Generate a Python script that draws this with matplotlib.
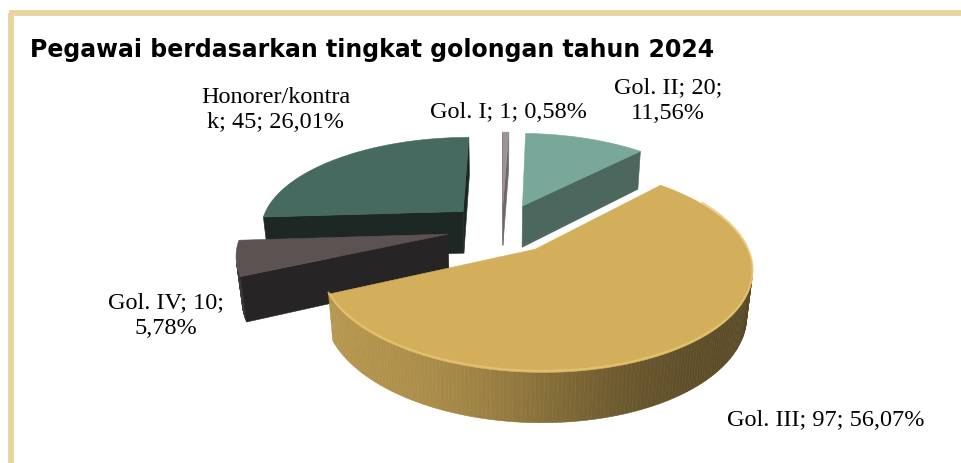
import numpy as np
import matplotlib.pyplot as plt
from matplotlib.patches import Polygon

# data
categories = ["Gol. I", "Gol. II", "Gol. III", "Gol. IV", "Honorer/kontrak"]
counts = [1, 20, 97, 10, 45]
wrap_at = [0, 12, 0, 12, 14]  # where Excel broke the label line

top_colors = ["#9C9494", "#79A89A", "#D4AF5B", "#5C5251", "#466A60"]
side_colors = ["#8A8282", "#5E857A", "#D4AF5B", "#4A4242", "#3A584F"]
radial_colors = ["#706868", "#4B675E", "#8C7540", "#272425", "#1D2824"]

label_xy = [(508, 113), (668, 101), (826, 420), (166, 316), (276, 110)]

# 3d pie geometry (pixels)
cx, cy = 502, 228
scale = 204
cam_dist = 5.0
tilt = np.radians(27)
height = 0.24
explode = 0.27
sin_t, cos_t = np.sin(tilt), np.cos(tilt)
cam = np.array([0.0, cam_dist * sin_t, cam_dist * cos_t])


def project(X, Y, Z):
    X, Y, Z = np.asarray(X), np.asarray(Y), np.asarray(Z)
    k = cam_dist / (cam_dist - Y * sin_t - Z * cos_t)
    return cx + scale * X * k, cy + scale * (Z * sin_t - Y * cos_t) * k


def shade(color, f):
    rgb = np.array(plt.matplotlib.colors.to_rgb(color))
    return tuple(np.clip(rgb * f, 0, 1))


fig = plt.figure(figsize=(9.62, 4.63), dpi=100)
ax = fig.add_axes([0, 0, 1, 1])
ax.set_xlim(0, 962)
ax.set_ylim(463, 0)
ax.axis("off")

# frame
ax.plot([11, 11], [13, 470], color="#E8D49F", lw=4.2, solid_capstyle="butt")
ax.plot([9, 970], [13, 13], color="#E8D49F", lw=4.2, solid_capstyle="butt")

fracs = np.array(counts) / sum(counts)
ends = np.cumsum(fracs) * 360
starts = ends - fracs * 360

slices = []
for i in range(len(counts)):
    mid = np.radians((starts[i] + ends[i]) / 2)
    ox, oz = explode * np.sin(mid), -explode * np.cos(mid)
    depth = cam_dist - (-height / 2) * sin_t - (oz - 0.5 * np.cos(mid)) * cos_t
    slices.append((depth, i, ox, oz))
slices.sort(reverse=True)

for depth, i, ox, oz in slices:
    th = np.radians(np.linspace(starts[i], ends[i], max(3, int(ends[i] - starts[i]) + 2)))
    ax_ = ox + np.sin(th)
    az_ = oz - np.cos(th)
    faces = []
    # curved outer side
    for j in range(len(th) - 1):
        tm = (th[j] + th[j + 1]) / 2
        n = np.array([np.sin(tm), 0, -np.cos(tm)])
        p = np.array([ox + np.sin(tm), -height / 2, oz - np.cos(tm)])
        if n @ (cam - p) > 0:
            xs = [ax_[j], ax_[j + 1], ax_[j + 1], ax_[j]]
            ys = [0, 0, -height, -height]
            zs = [az_[j], az_[j + 1], az_[j + 1], az_[j]]
            f = 0.64 - 0.22 * np.tanh(2 * np.sin(tm)) / np.tanh(2)
            faces.append((xs, ys, zs, shade(side_colors[i], f)))
    # radial faces
    for t, sgn in ((th[0], -1), (th[-1], 1)):
        n = sgn * np.array([np.cos(t), 0, np.sin(t)])
        p = np.array([ox + 0.5 * np.sin(t), -height / 2, oz - 0.5 * np.cos(t)])
        if n @ (cam - p) > 0:
            xs = [ox, ox + np.sin(t), ox + np.sin(t), ox]
            ys = [0, 0, -height, -height]
            zs = [oz, oz - np.cos(t), oz - np.cos(t), oz]
            faces.append((xs, ys, zs, radial_colors[i]))
    for xs, ys, zs, col in faces:
        px, py = project(xs, ys, zs)
        ax.add_patch(Polygon(np.column_stack([px, py]), closed=True,
                             facecolor=col, edgecolor=col, lw=0.4))
    # top face
    px, py = project(np.r_[ox, ax_], np.zeros(len(th) + 1), np.r_[oz, az_])
    ax.add_patch(Polygon(np.column_stack([px, py]), closed=True,
                         facecolor=top_colors[i], edgecolor=top_colors[i], lw=0.4))
    # soft bevel highlight on the front rim
    front = np.cos(th) < 0.5
    if front.any() and i == 2:
        hx, hy = project(ax_[front], np.zeros(front.sum()), az_[front])
        ax.plot(hx, hy - 1.5, color="#E6C673", lw=1.4, alpha=0.8)

# labels
for i in range(len(counts)):
    pct = f"{fracs[i] * 100:.2f}".replace(".", ",")
    text = f"{categories[i]}; {counts[i]}; {pct}%"
    if wrap_at[i]:
        text = text[:wrap_at[i]].rstrip() + "\n" + text[wrap_at[i]:].lstrip()
    ax.text(*label_xy[i], text, ha="center", va="center", fontsize=17.5,
            family="Liberation Serif", linespacing=1.3, color="black")

ax.text(30, 57, "Pegawai berdasarkan tingkat golongan tahun 2024", fontsize=17,
        fontweight="bold", family="DejaVu Sans", va="baseline", ha="left")

fig.savefig("out.png", dpi=100)
